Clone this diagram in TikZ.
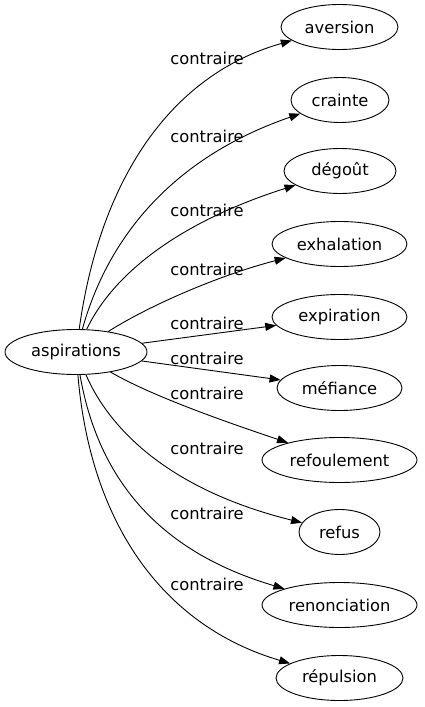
\documentclass[tikz,border=0pt]{standalone}
\usepackage{fontspec}
\setmainfont{DejaVu Sans}
\usetikzlibrary{shapes.geometric,arrows.meta}
\begin{document}
\begin{tikzpicture}[x=1pt,y=-1pt,
  every node/.style={font=\fontsize{16.3}{19}\selectfont},
  term/.style={ellipse,draw,line width=0.9pt,inner sep=0pt,minimum height=45pt},
  rel/.style={inner sep=0pt},
  arc/.style={line width=0.9pt,-{Triangle[length=11pt,width=8pt]}}]
\useasboundingbox (0,0) rectangle (424,707);
\node[term,minimum width=142pt] (asp) at (76,352) {aspirations};
\node[term,minimum width=117pt] (n1) at (339.5,27) {aversion};
\node[term,minimum width=98pt] (n2) at (340,100) {crainte};
\node[term,minimum width=112pt] (n3) at (340,171) {dégoût};
\node[term,minimum width=135pt] (n4) at (339.5,244) {exhalation};
\node[term,minimum width=135pt] (n5) at (339.5,317) {expiration};
\node[term,minimum width=125pt] (n6) at (339.5,388) {méfiance};
\node[term,minimum width=155pt] (n7) at (339.5,460) {refoulement};
\node[term,minimum width=81pt] (n8) at (339.5,532) {refus};
\node[term,minimum width=155pt] (n9) at (339.5,605) {renonciation};
\node[term,minimum width=127pt] (n10) at (339.5,678) {répulsion};
\node[rel] (l1) at (207,58) {contraire};
\node[rel] (l2) at (207,136) {contraire};
\node[rel] (l3) at (207,210) {contraire};
\node[rel] (l4) at (207,269) {contraire};
\node[rel] (l5) at (207,323) {contraire};
\node[rel] (l6) at (207,358) {contraire};
\node[rel] (l7) at (207,393) {contraire};
\node[rel] (l8) at (207,448) {contraire};
\node[rel] (l9) at (207,513) {contraire};
\node[rel] (l10) at (207,584) {contraire};
\draw[arc] (asp) .. controls (100,180) and (170,75) .. (n1);
\draw[arc] (asp) .. controls (110,230) and (180,155) .. (n2);
\draw[arc] (asp) .. controls (110,280) and (170,225) .. (n3);
\draw[arc] (asp) .. controls (150,305) and (220,275) .. (n4);
\draw[arc] (asp) -- (n5);
\draw[arc] (asp) -- (n6);
\draw[arc] (asp) .. controls (150,395) and (220,420) .. (n7);
\draw[arc] (asp) .. controls (110,430) and (170,490) .. (n8);
\draw[arc] (asp) .. controls (100,490) and (170,555) .. (n9);
\draw[arc] (asp) .. controls (90,520) and (160,625) .. (n10);
\end{tikzpicture}
\end{document}
